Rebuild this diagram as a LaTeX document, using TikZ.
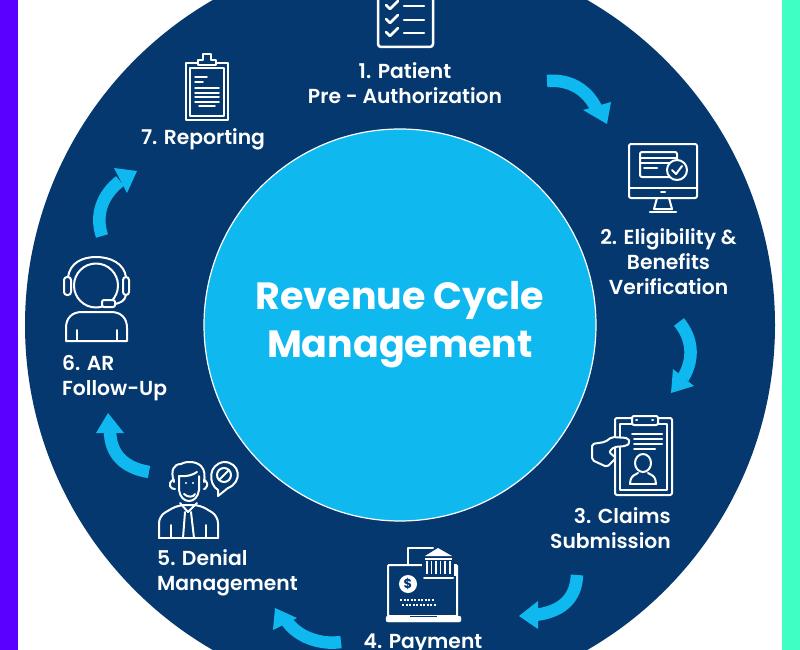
\documentclass[tikz,border=0pt]{standalone}
\usepackage{fontspec}
\setmainfont{Poppins}
\newfontfamily\medfont{Poppins SemiBold}
\definecolor{navy}{HTML}{04386F}
\definecolor{sky}{HTML}{0FB9F0}
\definecolor{violet}{HTML}{5A00FF}
\definecolor{mint}{HTML}{40FFC4}
\tikzset{
  label/.style={text=white,font=\medfont\fontsize{20.3}{25}\selectfont,align=center,inner sep=0pt},
  title/.style={text=white,font=\bfseries\fontsize{38}{47.5}\selectfont,align=center,inner sep=0pt},
  ic/.style={draw=white,line width=2pt,line join=round,line cap=round},
  icn/.style={ic,fill=navy},
  icf/.style={ic,line width=1.5pt},
  band/.style={draw=sky,line width=12.5pt},
  tip/.style={fill=sky}
}
\begin{document}
\begin{tikzpicture}[x=1pt,y=-1pt]
\useasboundingbox (0,0) rectangle (800,650);
\clip (0,0) rectangle (800,650);
\fill[white] (0,0) rectangle (800,650);
\fill[violet] (0,0) rectangle (18,650);
\fill[mint] (782,0) rectangle (800,650);
\fill[navy] (400,325) circle[radius=375pt];
\draw[white,line width=1.2pt,fill=sky] (400,325) circle[radius=196pt];

\node[title] (center) at (400,324.5) {Revenue Cycle\\Management};

\node[label] (s1) at (405,83) {1. Patient\\Pre - Authorization};
\node[label] (s2) at (668.5,262) {2. Eligibility \&\\Benefits\\Verification};
\node[label,align=right,anchor=east] (s3) at (671,528) {3. Claims\\Submission};
\node[label] (s4) at (423,644) {4. Payment};
\node[label,align=left,anchor=west] (s5) at (157,573) {5. Denial\\Management};
\node[label,align=left,anchor=west] (s6) at (62,378) {6. AR\\Follow-Up};
\node[label] (s7) at (203,139.5) {7. Reporting};

% arrows
\draw[band] (547,81) .. controls (570,79) and (588,90) .. (597,110);
\fill[tip] (607,124) -- (583,110) -- (611,102) -- cycle;
\draw[band] (679,322) .. controls (692,338) and (695,358) .. (683,378);
\fill[tip] (671,393) -- (673,369) -- (694,386) -- cycle;
\draw[band] (577,575) .. controls (576,600) and (560,612) .. (535,615);
\fill[tip] (519,616) -- (538,601) -- (538,629) -- cycle;
\draw[band] (341,642) .. controls (320,645) and (297,637) .. (286,620);
\fill[tip] (275,608) -- (273,630) -- (297,618) -- cycle;
\draw[band] (149,472) .. controls (125,468) and (110,455) .. (110,430);
\fill[tip] (108,413) -- (96,433) -- (124,433) -- cycle;
\draw[band] (102,236) .. controls (95,215) and (102,195) .. (120,181);
\fill[tip] (137,171) -- (114,168) -- (127,193) -- cycle;

% icon 1
\draw[ic,line width=2.5pt,rounded corners=3pt] (378,-10) rectangle (433,47);
\foreach \y in {5,19,32}{
  \draw[ic,line width=2.5pt] (386,\y) -- (390,\y+4) -- (398,\y-4);
  \draw[ic,line width=2.5pt] (404,\y+1) -- (424,\y+1);
}

% icon 2
\draw[ic,rounded corners=2pt] (629,144) rectangle (697,198);
\draw[ic] (629,188) -- (697,188);
\draw[ic] (661,192) -- (665,192);
\draw[ic] (657,198) -- (654,209) -- (672,209) -- (669,198);
\draw[ic,line width=2.5pt] (650,212) -- (676,212);
\draw[ic,rounded corners=2pt] (640,152) rectangle (677,177);
\draw[ic] (640,158) -- (677,158);
\draw[ic] (640,163) -- (677,163);
\draw[ic] (644,168) -- (657,168);
\draw[icn] (677,170) circle[radius=10pt];
\draw[ic] (672,170) -- (676,174) -- (682,166);

% icon 3
\draw[ic,rounded corners=2pt] (615,418) rectangle (672,495);
\draw[ic] (620,424) rectangle (667,490);
\draw[icn,rounded corners=2pt] (632,416) rectangle (658,425);
\draw[ic] (636,420) -- (637,420);
\draw[ic] (652,420) -- (653,420);
\draw[ic] (632,434) -- (662,434);
\draw[ic] (634,439) -- (662,439);
\draw[ic] (634,444) -- (662,444);
\draw[ic] (634,449) -- (655,449);
\draw[icn,rounded corners=2pt] (592,444) -- (605,442) -- (612,437) -- (628,438) -- (630,443) -- (626,446) -- (614,447) -- (609,452) -- (616,458) -- (607,467) -- (592,460) -- cycle;
\draw[ic] (643,463) ellipse[x radius=8pt,y radius=9pt];
\draw[ic,rounded corners=3pt] (630,484) -- (631,477) -- (638,473);
\draw[ic,rounded corners=3pt] (656,484) -- (655,477) -- (648,473);
\draw[ic] (630,484) -- (656,484);

% icon 4
\draw[ic,rounded corners=1pt] (388,565) rectangle (457,616);
\draw[fill=white,rounded corners=2pt,draw=white] (386,616) rectangle (461,622);
\draw[navy,line width=1.2pt] (410,616.5) -- (437,616.5);
\draw[ic] (408,565) -- (408,548) -- (433,548);
\fill[navy] (422,552) rectangle (455,580);
\fill[white] (425,556) -- (438,548) -- (452,556) -- cycle;
\fill[white] (425,558) rectangle (452,560);
\foreach \x in {427,431.5,436,440.5,445,450}{ \draw[white,line width=1.6pt] (\x,561) -- (\x,574); }
\draw[ic] (424,578) -- (453,578);
\draw[white,line width=2pt] (455,564) -- (455,576);
\node[circle,fill=white,minimum size=18pt,inner sep=0pt,text=navy,font=\bfseries\fontsize{13}{13}\selectfont] (dollar) at (408,584) {\$};
\draw[white,line width=1.8pt,dash pattern=on 2pt off 1.5pt] (400,600) -- (434,600);
\draw[white,line width=1.8pt,dash pattern=on 2pt off 1.5pt] (402,605) -- (437,605);

% icon 5
\draw[ic] (159,538) -- (218,538);
\draw[ic,rounded corners=7pt] (159,538) -- (159,516) -- (178,505) -- (200,505) -- (218,516) -- (218,538);
\draw[ic] (180,503) -- (188,512) -- (197,503);
\draw[ic] (185,512) -- (183,538);
\draw[ic] (191,512) -- (194,538);
\draw[ic] (171,525) -- (171,538);
\draw[ic] (206,525) -- (206,538);
\draw[ic] (179,476) -- (179,490) .. controls (180,497) and (184,501) .. (189,501) .. controls (194,501) and (198,497) .. (199,490) -- (199,476);
\draw[ic] (174,482) .. controls (170,470) and (174,464) .. (181,464) .. controls (186,461) and (196,461) .. (201,466) .. controls (205,470) and (205,476) .. (204,482);
\draw[ic] (179,476) .. controls (186,477) and (193,475) .. (197,472);
\draw[ic,rounded corners=2pt] (174,480) -- (170,481) -- (170,488) -- (175,489);
\draw[ic,rounded corners=2pt] (204,480) -- (207,481) -- (207,488) -- (204,489);
\draw[ic] (184,494) .. controls (188,498) and (194,497) .. (195,494);
\fill[white] (186,483) circle[radius=1.2pt] (193,483) circle[radius=1.2pt];
\draw[ic] (218,490) .. controls (208,484) and (208,464) .. (224,462) .. controls (240,462) and (243,482) .. (228,488) -- (218,496) -- cycle;
\draw[ic] (224,475) circle[radius=7pt];
\draw[ic] (219.5,479.5) -- (228.5,470.5);

% icon 6
\draw[ic] (96,285.5) circle[radius=22pt];
\draw[ic] (68,277) .. controls (70,263) and (82,257) .. (96,257) .. controls (110,257) and (124,263) .. (126,277);
\draw[ic,rounded corners=3pt] (64,277) rectangle (71,295);
\draw[ic,rounded corners=3pt] (123,277) rectangle (129,295);
\draw[ic] (126,295) .. controls (125,301) and (120,303) .. (115,304);
\draw[icn,rounded corners=2pt] (102,300) rectangle (115,307);
\draw[icn] (66,341) -- (66,328) .. controls (66,318) and (72,312) .. (82,312) -- (111,312) .. controls (121,312) and (127,318) .. (127,328) -- (127,341) -- cycle;
\draw[ic] (77,330) -- (77,341);
\draw[ic] (117,330) -- (117,341);

% icon 7
\draw[icf] (186,63) rectangle (228,120);
\draw[icf] (190,68) rectangle (224,116);
\draw[icn,line width=1.5pt] (198,65) -- (198,60) -- (203,60) -- (203,54) -- (211,54) -- (211,60) -- (216,60) -- (216,65) -- cycle;
\draw[icf] (195,77) -- (207,77);
\draw[icf] (195,82) -- (203,82);
\foreach \y in {88,93,97,102}{ \draw[icf] (195,\y) -- (219,\y); }
\draw[icf] (199,106) -- (215,106);
\end{tikzpicture}
\end{document}
